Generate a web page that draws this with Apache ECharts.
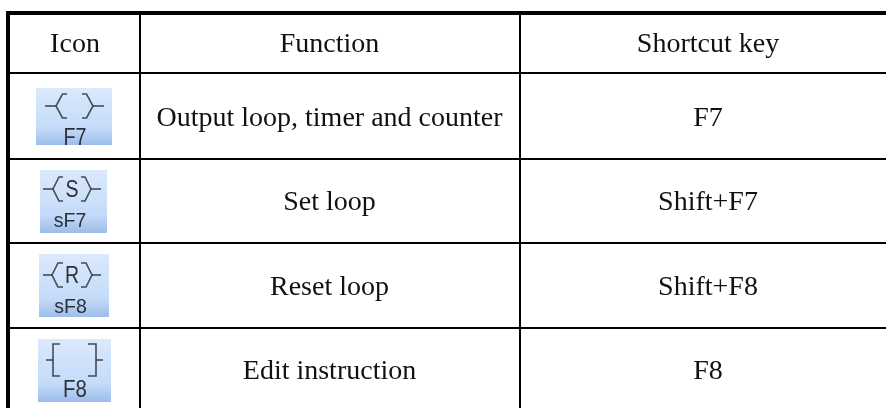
<!DOCTYPE html>
<html>
<head>
    <meta charset="utf-8">
    <title>Shortcut key table</title>
    <style>
        html, body { margin: 0; padding: 0; background: #fff; }
        #main { width: 886px; height: 408px; }
    </style>
</head>
<body>
    <div id="main"></div>
    <script src="https://cdn.jsdelivr.net/npm/echarts@6/dist/echarts.min.js"></script>
    <script>
        // table content
        var headers = ['Icon', 'Function', 'Shortcut key'];
        var functions = ['Output loop, timer and counter', 'Set loop', 'Reset loop', 'Edit instruction'];
        var shortcuts = ['F7', 'Shift+F7', 'Shift+F8', 'F8'];
        var iconKeys = ['F7', 'sF7', 'sF8', 'F8'];
        var iconLetters = ['', 'S', 'R', ''];

        // layout, in pixels of the hidden axes
        var colCenters = [75, 329.5, 708];
        var rowCenters = [45, 119, 203, 287.5, 372];
        var rules = [
            // x0, y0, x1, y1
            [6, 11, 886, 15],
            [6, 11, 10, 408],
            [139, 11, 141, 408],
            [519, 11, 521, 408],
            [6, 72, 886, 74],
            [6, 158, 886, 160],
            [6, 242, 886, 244],
            [6, 327, 886, 329]
        ];
        var iconBoxes = [
            [36, 88, 112, 145],
            [40, 170, 107, 233],
            [39, 254, 109, 317],
            [38, 339, 111, 402]
        ];
        // glyph middle inside each icon
        var glyphX = [74.5, 72, 72, 74.5];
        var glyphY = [106, 189, 275, 360];
        var keyX = [75, 70, 70.5, 75];
        var keyY = [138, 221, 307.5, 390];
        var keySize = [24, 21, 21, 24];
        var keySqueeze = [0.82, 0.93, 0.93, 0.85];
        // coil shape: apex offset, knee offset, arm height, tick end offset, hook end offset
        var coils = [[18.5, 12, 12, 29.5, 7.5], [19, 13, 12, 29, 9], [20, 14, 12, 29, 9]];

        var myChart = echarts.init(document.getElementById('main'));
        var ink = '#2c3136';
        var serif = '"Liberation Serif", "Times New Roman", serif';
        var sans = '"Liberation Sans", sans-serif';

        function renderRule(params, api) {
            var a = api.coord([api.value(0), api.value(1)]);
            var b = api.coord([api.value(2), api.value(3)]);
            return {
                type: 'rect',
                shape: { x: a[0], y: a[1], width: b[0] - a[0], height: b[1] - a[1] },
                style: { fill: '#000' }
            };
        }

        function renderCell(params, api) {
            var p = api.coord([api.value(0), api.value(1)]);
            return {
                type: 'text',
                style: {
                    x: p[0],
                    y: p[1],
                    text: api.value(2),
                    fill: '#111',
                    font: '28px ' + serif,
                    align: 'center',
                    verticalAlign: 'middle'
                }
            };
        }

        function glyphLine(points) {
            return {
                type: 'polyline',
                shape: { points: points },
                style: { stroke: ink, lineWidth: 1.6, fill: null, opacity: 0.85 }
            };
        }

        // icon label, squeezed because the toolbar font is narrower than Liberation Sans
        function iconText(text, x, y, size, squeeze) {
            return {
                type: 'text',
                x: x,
                y: y,
                scaleX: squeeze,
                style: {
                    x: 0,
                    y: 0,
                    text: text,
                    fill: ink,
                    font: size + 'px ' + sans,
                    align: 'center',
                    verticalAlign: 'middle'
                }
            };
        }

        function renderIcon(params, api) {
            var i = params.dataIndex;
            var tl = api.coord([api.value(0), api.value(1)]);
            var br = api.coord([api.value(2), api.value(3)]);
            var w = br[0] - tl[0];
            var h = br[1] - tl[1];
            var cx = glyphX[i];
            var cy = glyphY[i];
            var children = [{
                type: 'rect',
                shape: { x: tl[0], y: tl[1], width: w, height: h },
                style: {
                    fill: new echarts.graphic.LinearGradient(0, 0, 0, 1, [
                        { offset: 0, color: '#dbe9fc' },
                        { offset: 0.72, color: '#c3dbf9' },
                        { offset: 0.78, color: '#bbd4f5' },
                        { offset: 1, color: '#9cbceb' }
                    ])
                }
            }];
            if (i === 3) {
                // square brackets
                children.push(glyphLine([[cx - 14.5, cy - 16], [cx - 21.5, cy - 16], [cx - 21.5, cy + 16], [cx - 14.5, cy + 16]]));
                children.push(glyphLine([[cx - 28.5, cy], [cx - 21.5, cy]]));
                children.push(glyphLine([[cx + 13.5, cy - 16], [cx + 21.5, cy - 16], [cx + 21.5, cy + 16], [cx + 13.5, cy + 16]]));
                children.push(glyphLine([[cx + 21.5, cy], [cx + 28.5, cy]]));
            } else {
                // coil, with the short hooks at the arm ends
                var c = coils[i];
                children.push(glyphLine([[cx - c[4], cy - c[2]], [cx - c[1], cy - c[2]], [cx - c[0], cy], [cx - c[1], cy + c[2]], [cx - c[4], cy + c[2]]]));
                children.push(glyphLine([[cx + c[4], cy - c[2]], [cx + c[1], cy - c[2]], [cx + c[0], cy], [cx + c[1], cy + c[2]], [cx + c[4], cy + c[2]]]));
                children.push(glyphLine([[cx - c[3], cy], [cx - c[0], cy]]));
                children.push(glyphLine([[cx + c[0], cy], [cx + c[3], cy]]));
            }
            if (iconLetters[i]) {
                children.push(iconText(iconLetters[i], cx, cy + 2, 23, 0.85));
            }
            children.push(iconText(iconKeys[i], keyX[i], keyY[i], keySize[i], keySqueeze[i]));
            if (i === 0) {
                // the first icon is cropped through its key label
                children.push({
                    type: 'rect',
                    shape: { x: tl[0], y: br[1], width: w, height: 8 },
                    style: { fill: '#fff' }
                });
            }
            return { type: 'group', children: children };
        }

        var cellData = [];
        headers.forEach(function(text, c) {
            cellData.push([colCenters[c], rowCenters[0], text]);
        });
        functions.forEach(function(text, r) {
            cellData.push([colCenters[1], rowCenters[r + 1], text]);
        });
        shortcuts.forEach(function(text, r) {
            cellData.push([colCenters[2], rowCenters[r + 1], text]);
        });

        var option = {
            animation: false,
            backgroundColor: '#fff',
            grid: { left: 0, right: 0, top: 0, bottom: 0 },
            xAxis: { type: 'value', min: 0, max: 886, show: false },
            yAxis: { type: 'value', min: 0, max: 408, inverse: true, show: false },
            series: [
                { type: 'custom', renderItem: renderRule, data: rules, clip: false, silent: true },
                { type: 'custom', renderItem: renderIcon, data: iconBoxes, clip: true, silent: true },
                {
                    type: 'custom',
                    renderItem: renderCell,
                    data: cellData,
                    dimensions: ['x', 'y', { name: 'text', type: 'ordinal' }],
                    encode: { x: 0, y: 1 },
                    silent: true
                }
            ]
        };
        myChart.setOption(option);
        window.addEventListener('resize', function() {
            myChart.resize();
        });
    </script>
</body>
</html>
